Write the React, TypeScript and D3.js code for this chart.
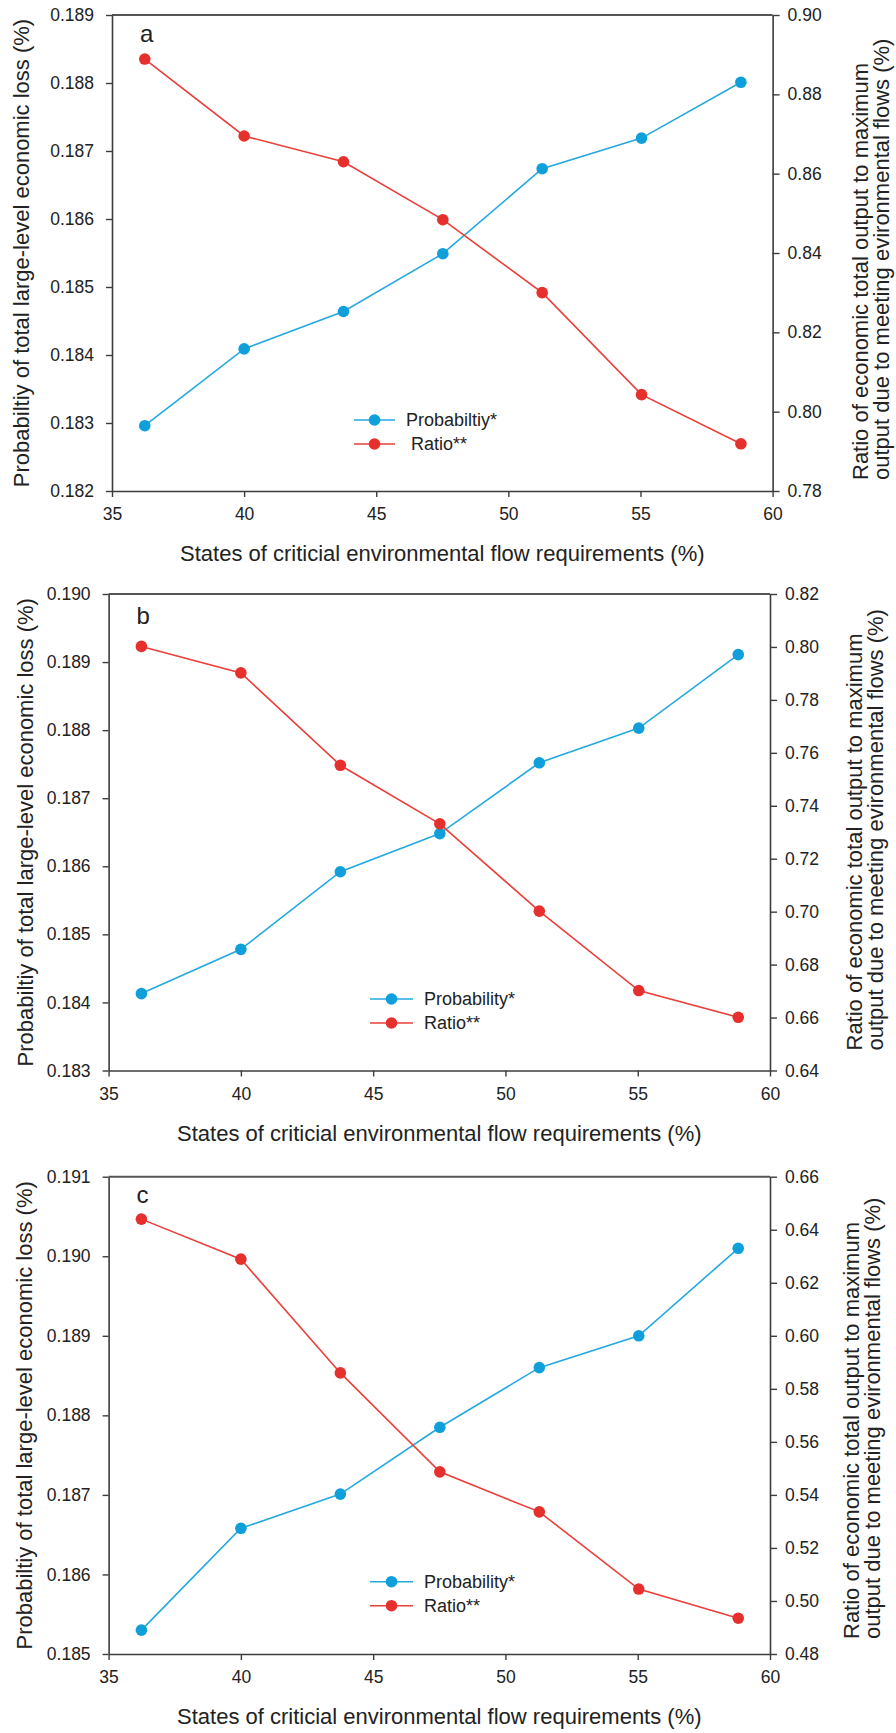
import { useEffect, useRef } from "react";
import * as d3 from "d3";

// states of critical environmental flow requirements (%)
const flowStates = [36.24, 40, 43.76, 47.52, 51.28, 55.04, 58.8];
const xTicks = [35, 40, 45, 50, 55, 60];

// panel a
const probA = [0.18296, 0.18409, 0.18464, 0.18549, 0.18674, 0.18719, 0.18801];
const ratioA = [0.8889, 0.8695, 0.863, 0.8484, 0.83, 0.8043, 0.7919];
const leftTicksA = [0.182, 0.183, 0.184, 0.185, 0.186, 0.187, 0.188, 0.189];
const rightTicksA = [0.78, 0.8, 0.82, 0.84, 0.86, 0.88, 0.9];

// panel b
const probB = [0.18413, 0.18478, 0.18592, 0.18648, 0.18752, 0.18803, 0.18911];
const ratioB = [0.8002, 0.7902, 0.7553, 0.7332, 0.7002, 0.6702, 0.6601];
const leftTicksB = [0.183, 0.184, 0.185, 0.186, 0.187, 0.188, 0.189, 0.19];
const rightTicksB = [0.64, 0.66, 0.68, 0.7, 0.72, 0.74, 0.76, 0.78, 0.8, 0.82];

// panel c
const probC = [0.1853, 0.18658, 0.18701, 0.18785, 0.1886, 0.189, 0.1901];
const ratioC = [0.644, 0.6289, 0.586, 0.5487, 0.5336, 0.5045, 0.4935];
const leftTicksC = [0.185, 0.186, 0.187, 0.188, 0.189, 0.19, 0.191];
const rightTicksC = [0.48, 0.5, 0.52, 0.54, 0.56, 0.58, 0.6, 0.62, 0.64, 0.66];

const legendA = ["Probabiltiy*", " Ratio**"];
const legendBC = ["Probability*", "Ratio**"];

const xTitle = "States of criticial environmental flow requirements (%)";
const yTitle = "Probabiltiy of total large-level economic loss (%)";
const rTitle = [
  "Ratio of economic total output to maximum",
  "output due to meeting evironmental flows (%)",
];

const BLUE = "#0fa0db";
const BLUE_LINE = "#25a9e0";
const RED = "#e5302d";
const RED_LINE = "#ea3f3a";
const AXIS = "#3c3c3c";
const FONT = "'Liberation Sans', Arial, sans-serif";

const panels = [
  {
    letter: "a", prob: probA, ratio: ratioA, leftTicks: leftTicksA, rightTicks: rightTicksA, legend: legendA,
    box: { left: 112, right: 772.6, top: 15, bottom: 491 },
    letterY: 27, yLabelX: 29, rLabelX: 868, rLabelOff: 11, legendX: 354, legendW: 41,
  },
  {
    letter: "b", prob: probB, ratio: ratioB, leftTicks: leftTicksB, rightTicks: rightTicksB, legend: legendBC,
    box: { left: 108.6, right: 770, top: 594, bottom: 1070.5 },
    letterY: 30, yLabelX: 33, rLabelX: 862, rLabelOff: 20, legendX: 370, legendW: 43,
  },
  {
    letter: "c", prob: probC, ratio: ratioC, leftTicks: leftTicksC, rightTicks: rightTicksC, legend: legendBC,
    box: { left: 108.6, right: 770, top: 1176.7, bottom: 1654 },
    letterY: 26, yLabelX: 32, rLabelX: 859, rLabelOff: 15, legendX: 370, legendW: 43,
  },
];

function drawPanel(root, p) {
  const { left, right, top, bottom } = p.box;
  const g = root.append("g");

  const x = d3.scaleLinear().domain([35, 60]).range([left, right]);
  const yL = d3.scaleLinear().domain(d3.extent(p.leftTicks)).range([bottom, top]);
  const yR = d3.scaleLinear().domain(d3.extent(p.rightTicks)).range([bottom, top]);

  const styleAxis = (sel) => {
    sel.select(".domain").attr("stroke", AXIS).attr("stroke-width", 1.6);
    sel.selectAll(".tick line").attr("stroke", AXIS).attr("stroke-width", 1.4);
    sel.selectAll(".tick text")
      .attr("fill", "#222")
      .attr("font-family", FONT)
      .attr("font-size", 17.5);
  };

  // top frame line
  g.append("line")
    .attr("x1", left).attr("x2", right)
    .attr("y1", top).attr("y2", top)
    .attr("stroke", "#555").attr("stroke-width", 2);

  g.append("g")
    .attr("transform", `translate(0,${bottom})`)
    .call(d3.axisBottom(x).tickValues(xTicks).tickSize(6).tickSizeOuter(0).tickPadding(11).tickFormat(d3.format("d")))
    .call(styleAxis);

  g.append("g")
    .attr("transform", `translate(${left},0)`)
    .call(d3.axisLeft(yL).tickValues(p.leftTicks).tickSize(6).tickSizeOuter(0).tickPadding(12).tickFormat(d3.format(".3f")))
    .call(styleAxis);

  g.append("g")
    .attr("transform", `translate(${right},0)`)
    .call(d3.axisRight(yR).tickValues(p.rightTicks).tickSize(7).tickSizeOuter(0).tickPadding(8).tickFormat(d3.format(".2f")))
    .call(styleAxis);

  // titles
  g.append("text")
    .attr("x", (left + right) / 2)
    .attr("y", bottom + 70)
    .attr("text-anchor", "middle")
    .attr("font-family", FONT)
    .attr("font-size", 22)
    .attr("fill", "#222")
    .text(xTitle);

  g.append("text")
    .attr("transform", `translate(${p.yLabelX},${(top + bottom) / 2}) rotate(-90)`)
    .attr("text-anchor", "middle")
    .attr("font-family", FONT)
    .attr("font-size", 22)
    .attr("fill", "#222")
    .text(yTitle);

  rTitle.forEach((line, i) => {
    g.append("text")
      .attr("transform", `translate(${p.rLabelX + i * 21},${bottom - p.rLabelOff}) rotate(-90)`)
      .attr("text-anchor", "start")
      .attr("font-family", FONT)
      .attr("font-size", 22)
      .attr("fill", "#222")
      .text(line);
  });

  g.append("text")
    .attr("x", left + 28)
    .attr("y", top + p.letterY)
    .attr("font-family", FONT)
    .attr("font-size", 24)
    .attr("fill", "#222")
    .text(p.letter);

  // series
  const series = [
    { values: p.prob, y: yL, dot: BLUE, line: BLUE_LINE },
    { values: p.ratio, y: yR, dot: RED, line: RED_LINE },
  ];

  series.forEach((s) => {
    const pts = flowStates.map((f, i) => [f, s.values[i]]);
    const line = d3.line().x((d) => x(d[0])).y((d) => s.y(d[1]));
    g.append("path")
      .datum(pts)
      .attr("fill", "none")
      .attr("stroke", s.line)
      .attr("stroke-width", 1.6)
      .attr("d", line);
    g.selectAll(null)
      .data(pts)
      .enter()
      .append("circle")
      .attr("cx", (d) => x(d[0]))
      .attr("cy", (d) => s.y(d[1]))
      .attr("r", 5.8)
      .attr("fill", s.dot);
  });

  // legend
  series.forEach((s, i) => {
    const ly = top + 405 + i * 24;
    const lg = g.append("g");
    lg.append("line")
      .attr("x1", p.legendX).attr("x2", p.legendX + p.legendW)
      .attr("y1", ly).attr("y2", ly)
      .attr("stroke", s.line).attr("stroke-width", 1.6);
    lg.append("circle")
      .attr("cx", p.legendX + p.legendW / 2)
      .attr("cy", ly)
      .attr("r", 5.8)
      .attr("fill", s.dot);
    lg.append("text")
      .attr("x", p.legendX + p.legendW + 11)
      .attr("y", ly)
      .attr("dy", "0.35em")
      .attr("font-family", FONT)
      .attr("font-size", 18)
      .attr("fill", "#222")
      .style("white-space", "pre")
      .text(p.legend[i]);
  });
}

export default function App() {
  const ref = useRef(null);

  useEffect(() => {
    const root = d3.select(ref.current);
    root.selectAll("*").remove();
    panels.forEach((p) => drawPanel(root, p));
  }, []);

  return (
    <svg
      ref={ref}
      width={896}
      height={1733}
      style={{ position: "absolute", left: 0, top: 0, background: "#fff" }}
    />
  );
}
